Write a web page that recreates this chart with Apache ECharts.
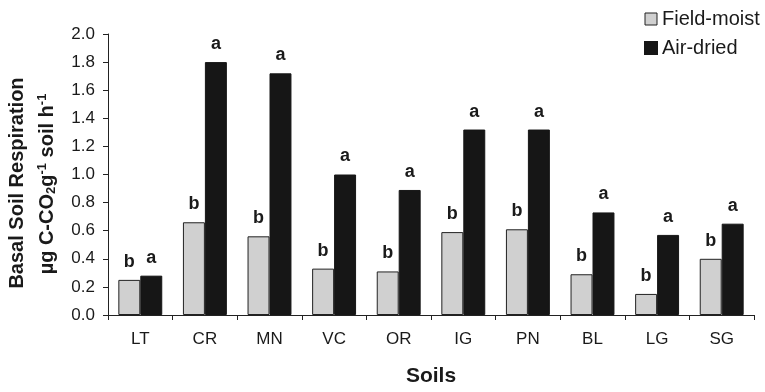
<!DOCTYPE html>
<html>
<head>
<meta charset="utf-8">
<script src="https://cdn.jsdelivr.net/npm/echarts@6/dist/echarts.min.js"></script>
<style>html,body{margin:0;padding:0;background:#fff}#c{width:765px;height:392px}</style>
</head>
<body>
<div id="c"></div>
<script>
var categories = ['LT','CR','MN','VC','OR','IG','PN','BL','LG','SG'];
var fieldMoist = [0.25,0.66,0.56,0.33,0.31,0.59,0.61,0.29,0.15,0.40];
var airDried   = [0.28,1.80,1.72,1.00,0.89,1.32,1.32,0.73,0.57,0.65];
var fieldLetters = ['b','b','b','b','b','b','b','b','b','b'];
var airLetters   = ['a','a','a','a','a','a','a','a','a','a'];
var seriesNames = ['Field-moist','Air-dried'];

var FONT = 'Liberation Sans, Arial, sans-serif';
var chart = echarts.init(document.getElementById('c'));
function lbl(letters){
  return {show:true, position:'top', distance:9, color:'#1a1a1a', fontFamily:FONT,
    fontWeight:'bold', fontSize:18, formatter:function(p){return letters[p.dataIndex];}};
}
chart.setOption({
  animation:false,
  grid:{left:108, right:11, top:34, bottom:74},
  legend:{orient:'vertical', left:639, top:4, itemWidth:12, itemHeight:12, itemGap:9,
    icon:'rect',
    textStyle:{fontFamily:FONT, fontSize:20, color:'#1a1a1a'},
    data:[{name:seriesNames[0], itemStyle:{borderColor:'#222', borderWidth:1}},
          {name:seriesNames[1]}]},
  xAxis:{type:'category', data:categories,
    axisLine:{lineStyle:{color:'#222', width:1}},
    axisTick:{show:true, length:5, lineStyle:{color:'#222'}},
    axisLabel:{fontFamily:FONT, fontSize:17, color:'#1a1a1a', margin:16},
    name:'Soils', nameLocation:'middle', nameGap:51,
    nameTextStyle:{fontFamily:FONT, fontSize:21, fontWeight:'bold', color:'#1a1a1a'}},
  yAxis:{type:'value', min:0, max:2, interval:0.2,
    axisLine:{show:true, lineStyle:{color:'#222'}},
    axisTick:{show:true, length:5, lineStyle:{color:'#222'}},
    splitLine:{show:false},
    axisLabel:{fontFamily:FONT, fontSize:17, color:'#1a1a1a', margin:13,
      formatter:function(v){return v.toFixed(1);}}},
  graphic:[
    {type:'text', x:17, y:183, rotation:Math.PI/2,
     style:{text:'Basal Soil Respiration', fontFamily:FONT, fontSize:20, fontWeight:'bold',
       fill:'#1a1a1a', textAlign:'center', textVerticalAlign:'middle'}},
    {type:'text', x:47, y:184, rotation:Math.PI/2,
     style:{text:'{n|µg C-CO}{sub|2}{n|g}{sup|-1}{n| soil h}{sup|-1}',
       textAlign:'center', textVerticalAlign:'middle', fill:'#1a1a1a',
       rich:{
         n:{fontFamily:FONT, fontSize:20, fontWeight:'bold', fill:'#1a1a1a'},
         sub:{fontFamily:FONT, fontSize:13, fontWeight:'bold', fill:'#1a1a1a', padding:[9,0,0,0]},
         sup:{fontFamily:FONT, fontSize:13, fontWeight:'bold', fill:'#1a1a1a', padding:[0,0,9,0]}
       }}}
  ],
  series:[
    {name:seriesNames[0], type:'bar', data:fieldMoist, barGap:'0%', barCategoryGap:'32%',
     itemStyle:{color:'#d0d0d0', borderColor:'#222', borderWidth:1}, label:lbl(fieldLetters)},
    {name:seriesNames[1], type:'bar', data:airDried, barGap:'0%', barCategoryGap:'32%',
     itemStyle:{color:'#161616', borderColor:'#161616', borderWidth:1}, label:lbl(airLetters)}
  ]
});
</script>
</body>
</html>
